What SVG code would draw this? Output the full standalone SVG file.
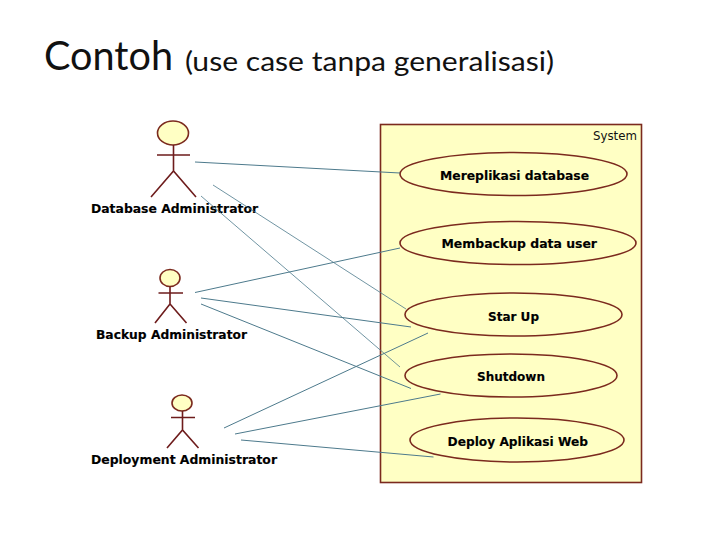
<svg xmlns="http://www.w3.org/2000/svg" width="720" height="540" viewBox="0 0 720 540">
<style>
.title{font-family:"Lato","Open Sans",sans-serif;fill:#111}
.lb{font-family:"DejaVu Sans",sans-serif;font-weight:700;font-size:11.5px;fill:#000;stroke:#000;stroke-width:.15}
.sys{font-family:"DejaVu Sans",sans-serif;font-size:11.5px;fill:#111}
.body{fill:#ffffc4;stroke:#7b2a1e;stroke-width:1.6}
.uc{fill:#ffffc4;stroke:#7b2a1e;stroke-width:1.6}
.stick{fill:none;stroke:#6e1c1c;stroke-width:1.6}
.c{stroke:#4d7a8c;stroke-width:1;fill:none}
.t{stroke-width:.8}
</style>
<rect width="720" height="540" fill="#fff"/>
<text class="title" x="44" y="70" font-size="40" textLength="129" lengthAdjust="spacingAndGlyphs">Contoh</text>
<text class="title" x="185" y="71" font-size="27" textLength="369" lengthAdjust="spacingAndGlyphs">(use case tanpa generalisasi)</text>
<g id="system">
<rect class="body" x="380.500" y="124.500" width="261" height="358"/>
<text class="sys" x="593" y="140" textLength="44" lengthAdjust="spacingAndGlyphs">System</text>
</g>
<g id="uc-mereplikasi"><ellipse class="uc" cx="513.500" cy="174" rx="113.500" ry="21.500"/><text class="lb" x="440" y="179.500" textLength="149" lengthAdjust="spacingAndGlyphs">Mereplikasi database</text></g>
<g id="uc-membackup"><ellipse class="uc" cx="518" cy="243" rx="118" ry="21.500"/><text class="lb" x="441.500" y="248" textLength="155.500" lengthAdjust="spacingAndGlyphs">Membackup data user</text></g>
<g id="uc-startup"><ellipse class="uc" cx="513.500" cy="314.500" rx="108.500" ry="21.500"/><text class="lb" x="488" y="321" textLength="51" lengthAdjust="spacingAndGlyphs">Star Up</text></g>
<g id="uc-shutdown"><ellipse class="uc" cx="511" cy="375.500" rx="106" ry="21.500"/><text class="lb" x="477" y="381" textLength="68" lengthAdjust="spacingAndGlyphs">Shutdown</text></g>
<g id="uc-deploy"><ellipse class="uc" cx="517" cy="440" rx="107" ry="22"/><text class="lb" x="447.500" y="446" textLength="140.500" lengthAdjust="spacingAndGlyphs">Deploy Aplikasi Web</text></g>
<g id="actor-db">
<ellipse class="uc" cx="173" cy="133" rx="15.500" ry="12"/>
<path class="stick" d="M157 155H190M173.500 145V171M151 197L173.500 171L196 197"/>
<text class="lb" x="91" y="213" textLength="167" lengthAdjust="spacingAndGlyphs">Database Administrator</text>
</g>
<g id="actor-backup">
<ellipse class="uc" cx="170" cy="278" rx="10" ry="8.500"/>
<path class="stick" d="M158.500 293H183M170 286.500V304M155 323L170 304L186.500 323"/>
<text class="lb" x="96" y="338.500" textLength="151" lengthAdjust="spacingAndGlyphs">Backup Administrator</text>
</g>
<g id="actor-deploy">
<ellipse class="uc" cx="182" cy="403" rx="10" ry="8"/>
<path class="stick" d="M171 417.500H195M182.500 411V430M167 448L182.500 430L198.500 448"/>
<text class="lb" x="91" y="464" textLength="186" lengthAdjust="spacingAndGlyphs">Deployment Administrator</text>
</g>
<g id="connectors">
<line class="c t" x1="213" y1="185" x2="406" y2="309"/>
<line class="c t" x1="201" y1="196" x2="400" y2="367"/>
<line class="c" x1="195" y1="162" x2="400" y2="173"/>
<line class="c" x1="195" y1="292.500" x2="400" y2="248"/>
<line class="c" x1="201" y1="298" x2="411" y2="327"/>
<line class="c" x1="201" y1="304" x2="411" y2="388.500"/>
<line class="c" x1="224" y1="428" x2="428" y2="333"/>
<line class="c" x1="235" y1="434" x2="440.500" y2="394"/>
<line class="c" x1="241" y1="440" x2="433.500" y2="457"/>
</g>
</svg>
